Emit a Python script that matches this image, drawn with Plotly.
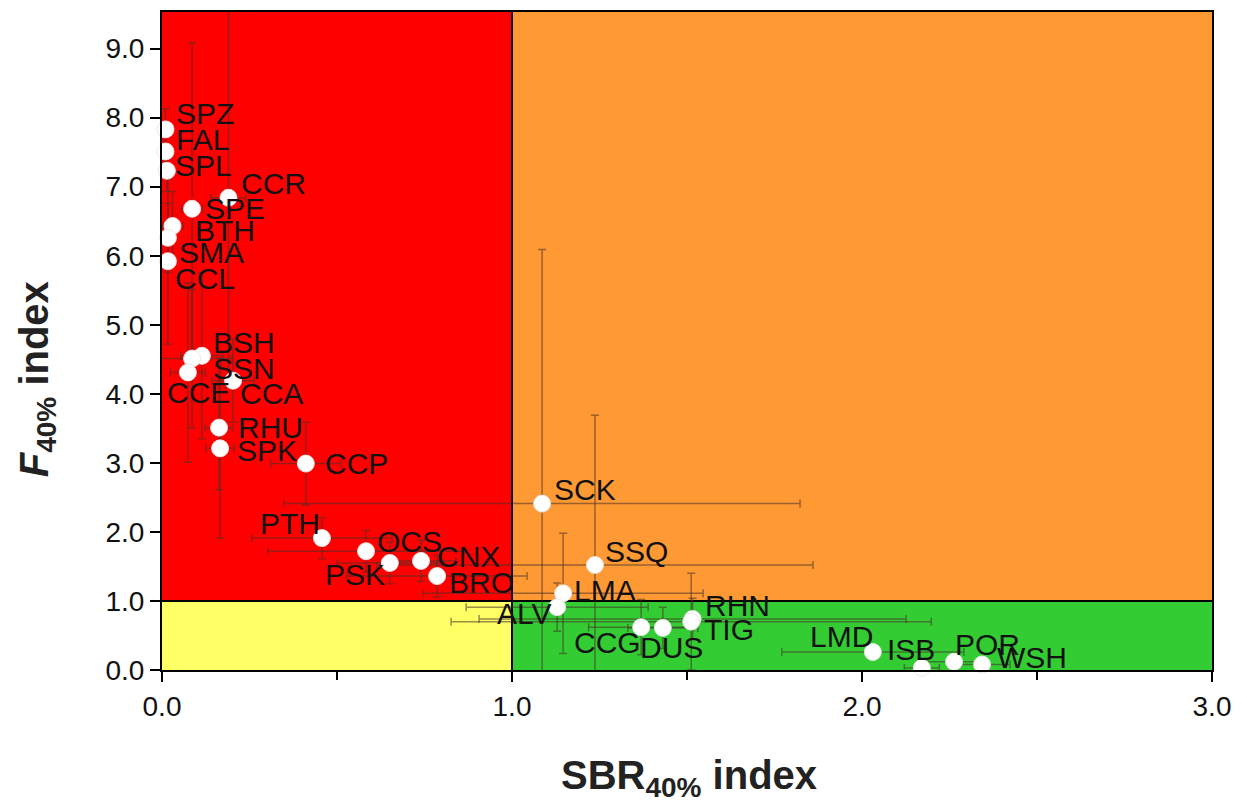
import plotly.graph_objects as go

# ---- data ----
species = ["SPZ", "FAL", "SPL", "CCR", "SPE", "BTH", "SMA", "CCL",
           "BSH", "SSN", "CCE", "CCA", "RHU", "SPK", "CCP",
           "PTH", "OCS", "PSK", "CNX", "BRO",
           "SCK", "SSQ", "LMA", "ALV", "CCG", "DUS", "RHN", "TIG",
           "LMD", "ISB", "POR", "WSH"]
sbr = [0.01, 0.01, 0.014, 0.19, 0.086, 0.03, 0.017, 0.017,
       0.114, 0.086, 0.074, 0.203, 0.163, 0.166, 0.411,
       0.457, 0.583, 0.651, 0.74, 0.786,
       1.086, 1.237, 1.146, 1.129, 1.369, 1.431, 1.516, 1.512,
       2.031, 2.171, 2.263, 2.343]
f_idx = [7.83, 7.51, 7.23, 6.84, 6.68, 6.43, 6.26, 5.92,
         4.55, 4.51, 4.31, 4.19, 3.51, 3.21, 2.99,
         1.91, 1.72, 1.55, 1.58, 1.36,
         2.41, 1.52, 1.11, 0.91, 0.62, 0.61, 0.74, 0.70,
         0.26, 0.03, 0.12, 0.08]
sbr_err = [0.02, 0.02, 0.02, 0.05, 0.03, 0.03, 0.02, 0.02,
           0.06, 0.114, 0.05, 0.06, 0.04, 0.04, 0.1,
           0.2, 0.28, 0.15, 0.1, 0.257,
           0.737, 0.623, 0.4, 0.26, 0.15, 0.1, 0.61, 0.686,
           0.26, 0.05, 0.08, 0.08]
f_err = [0.3, 0.3, 0.3, 2.75, 2.4, 0.5, 0.5, 1.2,
         1.2, 1.0, 1.3, 0.6, 0.9, 1.3, 0.6,
         0.3, 0.3, 0.3, 0.3, 0.3,
         3.68, 2.17, 0.87, 0.35, 0.4, 0.3, 0.3, 0.7,
         0.1, 0.05, 0.05, 0.05]

SBR_LIMIT = 1.0
F_LIMIT = 1.0
X_RANGE = [0.0, 3.0]
Y_RANGE = [0.0, 9.53]
x_ticks = [0.0, 1.0, 2.0, 3.0]
y_ticks = [0, 1, 2, 3, 4, 5, 6, 7, 8, 9]
x_title = "<b>SBR<sub>40%</sub> index</b>"
y_title = "<b><i>F</i><sub>40%</sub> index</b>"

# label offsets (pixels) relative to each point: (dx to label left edge, dy up)
label_dx = [8, 8, 6, 10, 11, 20, 9, 5,
            9, 19, -23, 5, 17, 15, 17,
            -64, 9, -67, 14, 10,
            10, 8, 9, -62, -69, -25, 10, 11,
            -65, -37, -1, 13]
label_dy = [16, 12, 5, 14, 0, -4, -15, -17,
            13, -10, -20, -13, 0, -2, 0,
            15, 10, -12, 4, -6,
            14, 14, 3, -6, -15, -20, 13, -8,
            16, 18, 17, 7]

FONT = "Arial, Liberation Sans, sans-serif"
RED = "#FF0000"
ORANGE = "#FF9933"
YELLOW = "#FFFF66"
GREEN = "#33CC33"

fig = go.Figure()

# status zones
zones = [
    (X_RANGE[0], SBR_LIMIT, F_LIMIT, Y_RANGE[1], RED),
    (SBR_LIMIT, X_RANGE[1], F_LIMIT, Y_RANGE[1], ORANGE),
    (X_RANGE[0], SBR_LIMIT, Y_RANGE[0], F_LIMIT, YELLOW),
    (SBR_LIMIT, X_RANGE[1], Y_RANGE[0], F_LIMIT, GREEN),
]
for x0, x1, y0, y1, c in zones:
    fig.add_shape(type="rect", x0=x0, x1=x1, y0=y0, y1=y1, xref="x", yref="y",
                  fillcolor=c, line=dict(width=0), layer="below")
fig.add_shape(type="line", x0=SBR_LIMIT, x1=SBR_LIMIT, y0=Y_RANGE[0], y1=Y_RANGE[1],
              xref="x", yref="y", line=dict(color="black", width=2), layer="below")
fig.add_shape(type="line", x0=X_RANGE[0], x1=X_RANGE[1], y0=F_LIMIT, y1=F_LIMIT,
              xref="x", yref="y", line=dict(color="black", width=2), layer="below")

# error bars (clipped to the plot area)
fig.add_trace(go.Scatter(
    x=sbr, y=f_idx, mode="markers",
    marker=dict(size=1, color="rgba(0,0,0,0)"),
    error_x=dict(type="data", array=sbr_err, visible=True,
                 color="rgba(70,50,40,0.55)", thickness=1.5, width=4),
    error_y=dict(type="data", array=f_err, visible=True,
                 color="rgba(70,50,40,0.55)", thickness=1.5, width=4),
    cliponaxis=True, hoverinfo="skip", showlegend=False,
))

# points
fig.add_trace(go.Scatter(
    x=sbr, y=f_idx, mode="markers", text=species,
    marker=dict(size=17, color="white", line=dict(width=1, color="rgba(230,230,230,0.9)")),
    cliponaxis=False, showlegend=False,
))

for name, xv, yv, dx, dy in zip(species, sbr, f_idx, label_dx, label_dy):
    fig.add_annotation(x=xv, y=yv, text=name, showarrow=False,
                       xanchor="left", yanchor="middle", xshift=dx, yshift=dy,
                       font=dict(family=FONT, size=30, color="#111111"))

# axis titles
fig.add_annotation(x=0.502, y=-0.1636, xref="paper", yref="paper", text=x_title,
                   showarrow=False, xanchor="center", yanchor="middle",
                   font=dict(family=FONT, size=40, color="#222222"))
fig.add_annotation(x=-0.119, y=0.442, xref="paper", yref="paper", text=y_title,
                   showarrow=False, xanchor="center", yanchor="middle", textangle=-90,
                   font=dict(family=FONT, size=40, color="#222222"))

fig.update_xaxes(
    range=X_RANGE, tickvals=x_ticks, ticktext=[f"{v:.1f}" for v in x_ticks],
    ticks="outside", ticklen=10, tickwidth=1.5, tickcolor="black",
    minor=dict(dtick=0.5, ticks="outside", ticklen=8, tickwidth=1.5, tickcolor="black"),
    showgrid=False, zeroline=False, showline=True, linecolor="black", linewidth=2, mirror=True,
    tickfont=dict(family=FONT, size=28, color="#111111"),
)
fig.update_yaxes(
    range=Y_RANGE, tickvals=y_ticks, ticktext=[f"{v:.1f}" for v in y_ticks],
    ticks="outside", ticklen=10, tickwidth=1.5, tickcolor="black",
    showgrid=False, zeroline=False, showline=True, linecolor="black", linewidth=2, mirror=True,
    tickfont=dict(family=FONT, size=28, color="#111111"),
)

fig.update_layout(
    width=1239, height=797,
    margin=dict(l=154, r=35, t=2, b=135),
    paper_bgcolor="white", plot_bgcolor="white",
    font=dict(family=FONT),
)

fig.write_html("out.html")
